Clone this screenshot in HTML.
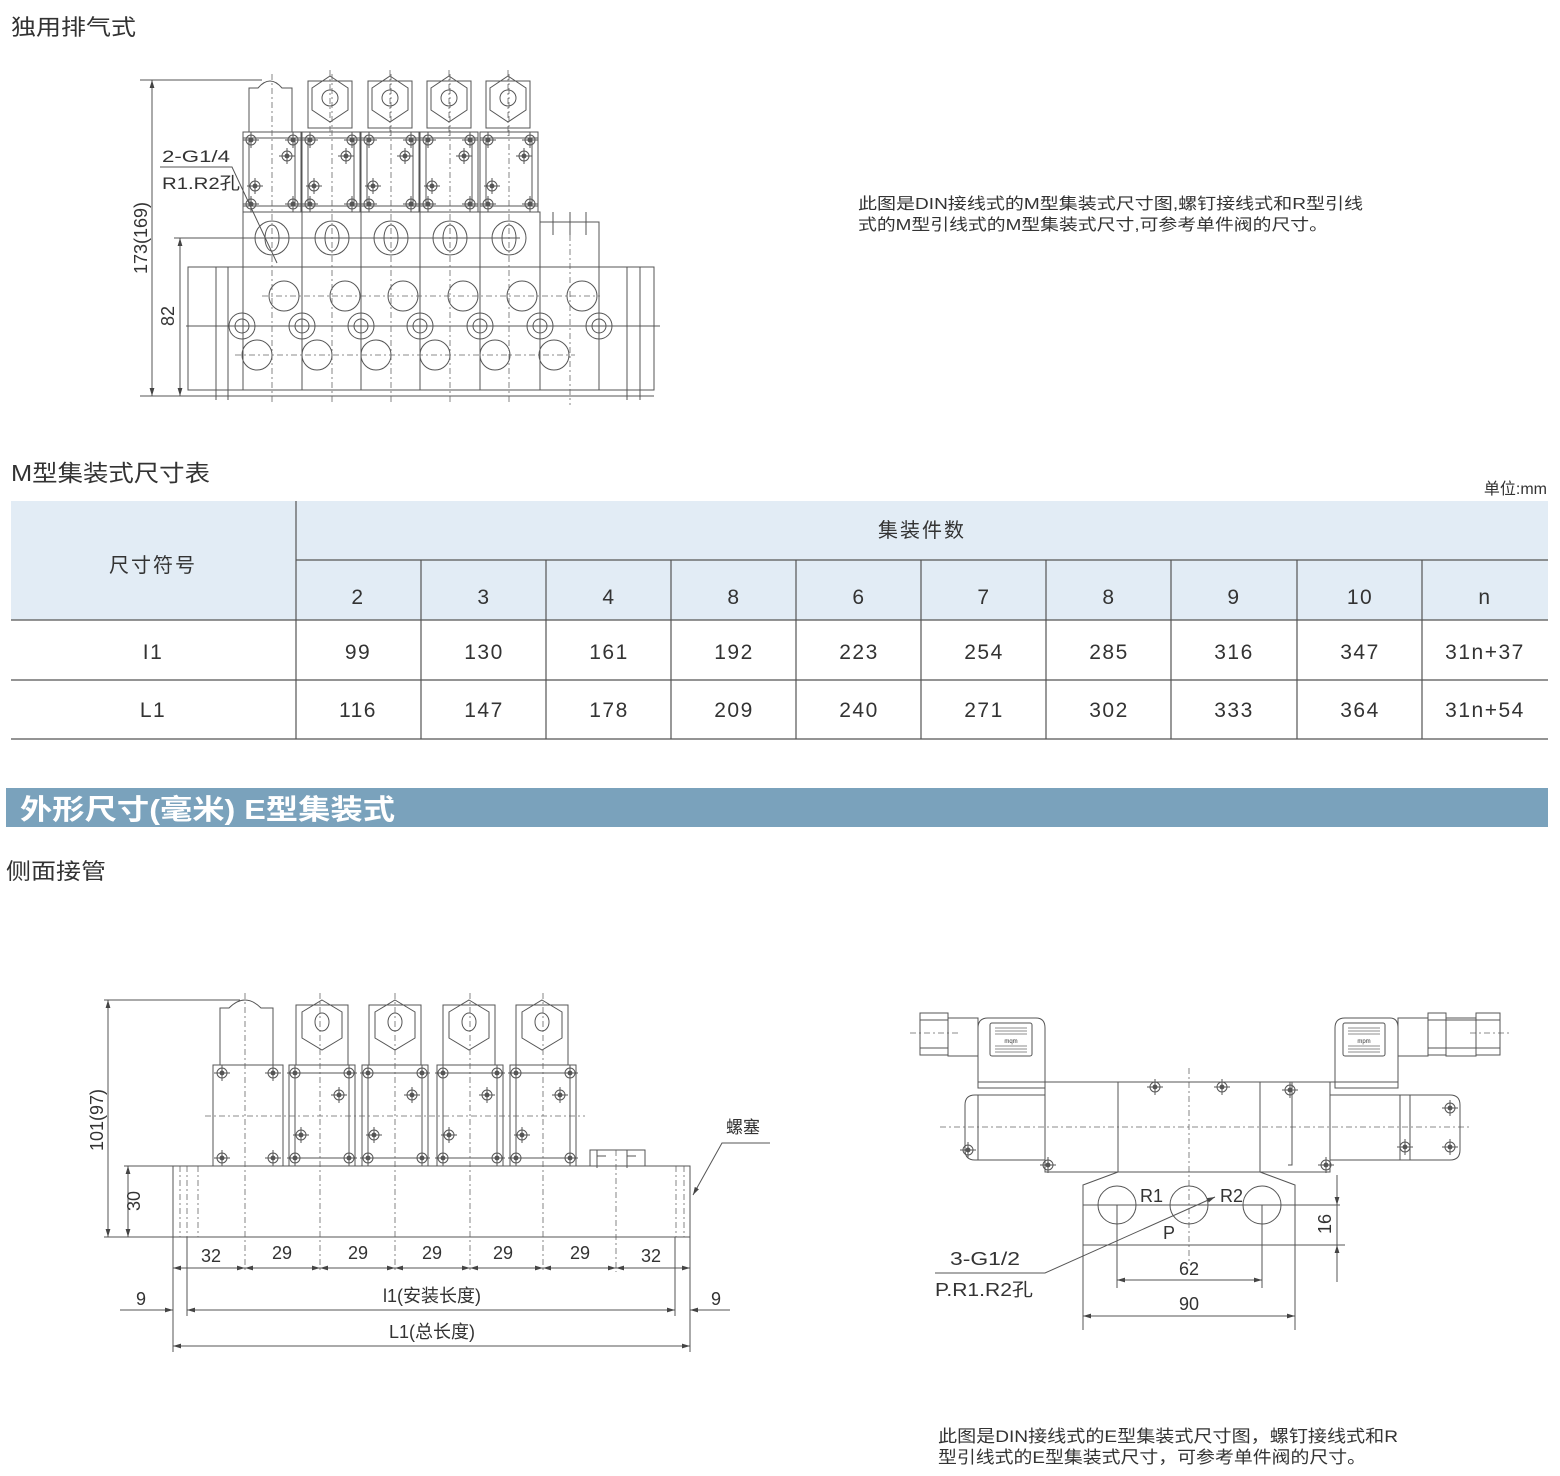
<!DOCTYPE html>
<html><head><meta charset="utf-8"><style>
html,body{margin:0;padding:0;background:#fff;width:1560px;height:1476px;overflow:hidden}
svg{display:block}
text{font-family:"Liberation Sans","Noto Sans CJK SC",sans-serif;fill:#333}
.l{fill:none;stroke:#555;stroke-width:1}
.d{fill:none;stroke:#666;stroke-width:0.8;stroke-dasharray:6,3,2,3}
</style></head><body>
<svg width="1560" height="1476" viewBox="0 0 1560 1476" xmlns="http://www.w3.org/2000/svg">
<defs>
<marker id="a" viewBox="0 0 10 10" refX="10" refY="5" markerWidth="8" markerHeight="8" orient="auto-start-reverse"><path d="M0,2L10,5L0,8z" fill="#444"/></marker>
<g id="bolt"><circle r="5" class="l"/><circle r="2.5" fill="#555"/><line x1="-8" x2="8" class="l"/><line y1="-8" y2="8" class="l"/></g>
<g id="hex"><rect x="-22" y="5" width="44" height="47" class="l"/><path d="M0,0L18,12L18,34L0,46L-18,34L-18,12Z" class="l"/><circle cy="22" r="8" class="l"/><line y1="-6" y2="60" class="d"/></g>
<g id="vtop"><rect x="0" y="0" width="58" height="80" class="l"/><line x1="0" y1="6" x2="58" y2="6" class="l"/><line x1="0" y1="74" x2="58" y2="74" class="l"/><rect x="6" y="6" width="46" height="68" class="l"/>
<use href="#bolt" x="8" y="8"/><use href="#bolt" x="50" y="8"/><use href="#bolt" x="8" y="72"/><use href="#bolt" x="50" y="72"/><use href="#bolt" x="44" y="24"/><use href="#bolt" x="12" y="54"/></g>
<g id="ewv"><rect x="0" y="0" width="66" height="101" class="l"/><rect x="6" y="8" width="54" height="85" class="l"/><line x1="0" y1="8" x2="66" y2="8" class="l"/>
<use href="#bolt" x="6" y="8"/><use href="#bolt" x="60" y="8"/><use href="#bolt" x="6" y="93"/><use href="#bolt" x="60" y="93"/><use href="#bolt" x="50" y="30"/><use href="#bolt" x="12" y="70"/></g>
</defs>

<!-- headings -->
<text x="11" y="35" font-size="22" textLength="125" lengthAdjust="spacingAndGlyphs">独用排气式</text>
<text x="11" y="481" font-size="23" textLength="199" lengthAdjust="spacingAndGlyphs">M型集装式尺寸表</text>
<text x="1547" y="494" font-size="16" text-anchor="end">单位:mm</text>
<text x="858" y="209" font-size="16" textLength="505" lengthAdjust="spacingAndGlyphs">此图是DIN接线式的M型集装式尺寸图,螺钉接线式和R型引线</text>
<text x="858" y="230" font-size="16" textLength="470" lengthAdjust="spacingAndGlyphs">式的M型引线式的M型集装式尺寸,可参考单件阀的尺寸。</text>

<!-- top drawing -->
<g>
<line x1="140" y1="80" x2="262" y2="80" class="l"/>
<line x1="140" y1="396" x2="654" y2="396" class="l"/>
<line x1="152" y1="80" x2="152" y2="396" class="l" marker-start="url(#a)" marker-end="url(#a)"/>
<line x1="174" y1="238" x2="520" y2="238" class="l"/>
<line x1="180" y1="238" x2="180" y2="396" class="l" marker-start="url(#a)" marker-end="url(#a)"/>
<text transform="translate(147,238) rotate(-90)" font-size="18" text-anchor="middle">173(169)</text>
<text transform="translate(174,316) rotate(-90)" font-size="18" text-anchor="middle">82</text>
<rect x="188" y="267" width="466" height="123" class="l"/>
<line x1="216" y1="267" x2="216" y2="400" class="l"/><line x1="228" y1="267" x2="228" y2="400" class="l"/>
<line x1="627" y1="267" x2="627" y2="400" class="l"/><line x1="640" y1="267" x2="640" y2="400" class="l"/>
<rect x="243" y="212" width="59" height="178" class="l"/>
<rect x="302" y="212" width="59" height="178" class="l"/>
<rect x="361" y="212" width="59" height="178" class="l"/>
<rect x="420" y="212" width="60" height="178" class="l"/>
<rect x="480" y="212" width="60" height="178" class="l"/>
<rect x="540" y="222" width="59" height="168" class="l"/>
<line x1="550" y1="222" x2="592" y2="222" class="l"/><line x1="553" y1="212" x2="553" y2="235" class="l"/><line x1="570" y1="212" x2="570" y2="235" class="l"/><line x1="586" y1="212" x2="586" y2="235" class="l"/>
<line x1="243" y1="267" x2="599" y2="267" class="l"/>
<use href="#vtop" x="243" y="132"/><use href="#vtop" x="302" y="132"/><use href="#vtop" x="361" y="132"/><use href="#vtop" x="420" y="132"/><use href="#vtop" x="480" y="132"/>
<path d="M249,132V88H258Q270,74 282,88H292V132" class="l"/>
<use href="#hex" x="330" y="76"/><use href="#hex" x="390" y="76"/><use href="#hex" x="449" y="76"/><use href="#hex" x="508" y="76"/>
<g class="l">
<circle cx="272" cy="238" r="17"/><ellipse cx="272" cy="238" rx="7" ry="13"/>
<circle cx="332" cy="238" r="17"/><ellipse cx="332" cy="238" rx="7" ry="13"/>
<circle cx="391" cy="238" r="17"/><ellipse cx="391" cy="238" rx="7" ry="13"/>
<circle cx="450" cy="238" r="17"/><ellipse cx="450" cy="238" rx="7" ry="13"/>
<circle cx="509" cy="238" r="17"/><ellipse cx="509" cy="238" rx="7" ry="13"/>
<circle cx="284" cy="296" r="15"/><circle cx="345" cy="296" r="15"/><circle cx="403" cy="296" r="15"/><circle cx="463" cy="296" r="15"/><circle cx="522" cy="296" r="15"/><circle cx="582" cy="296" r="15"/>
<circle cx="242" cy="326" r="13"/><circle cx="242" cy="326" r="7"/>
<circle cx="302" cy="326" r="13"/><circle cx="302" cy="326" r="7"/>
<circle cx="361" cy="326" r="13"/><circle cx="361" cy="326" r="7"/>
<circle cx="420" cy="326" r="13"/><circle cx="420" cy="326" r="7"/>
<circle cx="480" cy="326" r="13"/><circle cx="480" cy="326" r="7"/>
<circle cx="540" cy="326" r="13"/><circle cx="540" cy="326" r="7"/>
<circle cx="599" cy="326" r="13"/><circle cx="599" cy="326" r="7"/>
<circle cx="257" cy="355" r="15"/><circle cx="317" cy="355" r="15"/><circle cx="376" cy="355" r="15"/><circle cx="435" cy="355" r="15"/><circle cx="495" cy="355" r="15"/><circle cx="554" cy="355" r="15"/>
</g>
<line x1="186" y1="326" x2="660" y2="326" class="l"/>
<line x1="262" y1="296" x2="600" y2="296" class="d"/><line x1="235" y1="355" x2="575" y2="355" class="d"/>
<g class="d"><line x1="272" y1="74" x2="272" y2="405"/><line x1="332" y1="74" x2="332" y2="405"/><line x1="391" y1="74" x2="391" y2="405"/><line x1="450" y1="74" x2="450" y2="405"/><line x1="509" y1="74" x2="509" y2="405"/><line x1="570" y1="235" x2="570" y2="405"/></g>
<text x="162" y="162" font-size="17" textLength="68" lengthAdjust="spacingAndGlyphs">2-G1/4</text>
<text x="162" y="189" font-size="17" textLength="78" lengthAdjust="spacingAndGlyphs">R1.R2孔</text>
<path d="M160,167H232L277,263" class="l"/>
</g>

<!-- table -->
<rect x="11" y="501" width="1537" height="119" fill="#e2ecf5"/>
<g stroke="#555" stroke-width="1.2">
<line x1="296" y1="560" x2="1548" y2="560"/>
<line x1="11" y1="620" x2="1548" y2="620"/>
<line x1="11" y1="680" x2="1548" y2="680"/>
<line x1="11" y1="739" x2="1548" y2="739"/>
<line x1="296" y1="501" x2="296" y2="739"/>
<line x1="421" y1="560" x2="421" y2="739"/><line x1="546" y1="560" x2="546" y2="739"/><line x1="671" y1="560" x2="671" y2="739"/><line x1="796" y1="560" x2="796" y2="739"/><line x1="921" y1="560" x2="921" y2="739"/><line x1="1046" y1="560" x2="1046" y2="739"/><line x1="1171" y1="560" x2="1171" y2="739"/><line x1="1297" y1="560" x2="1297" y2="739"/><line x1="1422" y1="560" x2="1422" y2="739"/>
</g>
<g font-size="21" text-anchor="middle" letter-spacing="1.5">
<text x="153" y="572" font-size="20" letter-spacing="2">尺寸符号</text>
<text x="922" y="537" font-size="20" letter-spacing="2">集装件数</text>
<text x="358" y="604">2</text><text x="484" y="604">3</text><text x="609" y="604">4</text><text x="734" y="604">8</text><text x="859" y="604">6</text><text x="984" y="604">7</text><text x="1109" y="604">8</text><text x="1234" y="604">9</text><text x="1360" y="604">10</text><text x="1485" y="604">n</text>
<text x="153" y="659">I1</text><text x="358" y="659">99</text><text x="484" y="659">130</text><text x="609" y="659">161</text><text x="734" y="659">192</text><text x="859" y="659">223</text><text x="984" y="659">254</text><text x="1109" y="659">285</text><text x="1234" y="659">316</text><text x="1360" y="659">347</text><text x="1485" y="659">31n+37</text>
<text x="153" y="717">L1</text><text x="358" y="717">116</text><text x="484" y="717">147</text><text x="609" y="717">178</text><text x="734" y="717">209</text><text x="859" y="717">240</text><text x="984" y="717">271</text><text x="1109" y="717">302</text><text x="1234" y="717">333</text><text x="1360" y="717">364</text><text x="1485" y="717">31n+54</text>
</g>

<!-- banner -->
<rect x="6" y="788" width="1542" height="39" fill="#7aa2bc"/>
<text x="20" y="819" font-size="28" font-weight="bold" style="fill:#fff" textLength="375" lengthAdjust="spacingAndGlyphs">外形尺寸(毫米)  E型集装式</text>
<text x="6" y="879" font-size="22" textLength="100" lengthAdjust="spacingAndGlyphs">侧面接管</text>

<!-- bottom left drawing -->
<g>
<line x1="104" y1="1000" x2="240" y2="1000" class="l"/>
<line x1="104" y1="1237" x2="173" y2="1237" class="l"/>
<line x1="108" y1="1000" x2="108" y2="1237" class="l" marker-start="url(#a)" marker-end="url(#a)"/>
<line x1="124" y1="1166" x2="173" y2="1166" class="l"/>
<line x1="128" y1="1166" x2="128" y2="1237" class="l" marker-start="url(#a)" marker-end="url(#a)"/>
<text transform="translate(103,1120) rotate(-90)" font-size="18" text-anchor="middle">101(97)</text>
<text transform="translate(140,1201) rotate(-90)" font-size="18" text-anchor="middle">30</text>
<rect x="173" y="1166" width="517" height="71" class="l"/>
<g class="d"><line x1="180" y1="1166" x2="180" y2="1237"/><line x1="187" y1="1166" x2="187" y2="1237"/><line x1="198" y1="1166" x2="198" y2="1237"/><line x1="676" y1="1166" x2="676" y2="1237"/><line x1="684" y1="1166" x2="684" y2="1237"/></g>
<rect x="213" y="1065" width="70" height="101" class="l"/>
<use href="#bolt" x="222" y="1073"/><use href="#bolt" x="273" y="1073"/><use href="#bolt" x="222" y="1158"/><use href="#bolt" x="273" y="1158"/>
<path d="M220,1065V1008H229Q245,992 261,1008H273V1065" class="l"/>
<use href="#ewv" x="289" y="1065"/><use href="#ewv" x="362" y="1065"/><use href="#ewv" x="437" y="1065"/><use href="#ewv" x="510" y="1065"/>
<g transform="translate(322,1000)"><rect x="-26" y="5" width="52" height="60" class="l"/><path d="M0,0L20,12L20,38L0,50L-20,38L-20,12Z" class="l"/><ellipse cy="22" rx="7" ry="9" class="l"/></g>
<g transform="translate(395,1000)"><rect x="-26" y="5" width="52" height="60" class="l"/><path d="M0,0L20,12L20,38L0,50L-20,38L-20,12Z" class="l"/><ellipse cy="22" rx="7" ry="9" class="l"/></g>
<g transform="translate(469,1000)"><rect x="-26" y="5" width="52" height="60" class="l"/><path d="M0,0L20,12L20,38L0,50L-20,38L-20,12Z" class="l"/><ellipse cy="22" rx="7" ry="9" class="l"/></g>
<g transform="translate(542,1000)"><rect x="-26" y="5" width="52" height="60" class="l"/><path d="M0,0L20,12L20,38L0,50L-20,38L-20,12Z" class="l"/><ellipse cy="22" rx="7" ry="9" class="l"/></g>
<path d="M590,1166V1150H645V1166M597,1150V1168M627,1150V1168M597,1156H606M627,1156H636" class="l"/>
<line x1="205" y1="1116" x2="585" y2="1116" class="d"/>
<g class="d"><line x1="245" y1="993" x2="245" y2="1272"/><line x1="320" y1="993" x2="320" y2="1272"/><line x1="395" y1="993" x2="395" y2="1272"/><line x1="470" y1="993" x2="470" y2="1272"/><line x1="543" y1="993" x2="543" y2="1272"/><line x1="616" y1="1150" x2="616" y2="1272"/></g>
<line x1="173" y1="1237" x2="173" y2="1352" class="l"/><line x1="690" y1="1237" x2="690" y2="1352" class="l"/>
<line x1="187" y1="1237" x2="187" y2="1316" class="l"/><line x1="675" y1="1237" x2="675" y2="1316" class="l"/>
<g class="l" marker-start="url(#a)" marker-end="url(#a)">
<line x1="173" y1="1268" x2="245" y2="1268"/><line x1="245" y1="1268" x2="320" y2="1268"/><line x1="320" y1="1268" x2="395" y2="1268"/><line x1="395" y1="1268" x2="470" y2="1268"/><line x1="470" y1="1268" x2="543" y2="1268"/><line x1="543" y1="1268" x2="616" y2="1268"/><line x1="616" y1="1268" x2="690" y2="1268"/>
<line x1="187" y1="1310" x2="675" y2="1310"/>
<line x1="173" y1="1346" x2="690" y2="1346"/>
</g>
<line x1="120" y1="1310" x2="173" y2="1310" class="l" marker-end="url(#a)"/>
<line x1="730" y1="1310" x2="690" y2="1310" class="l" marker-end="url(#a)"/>
<g font-size="18" text-anchor="middle">
<text x="211" y="1262">32</text><text x="282" y="1259">29</text><text x="358" y="1259">29</text><text x="432" y="1259">29</text><text x="503" y="1259">29</text><text x="580" y="1259">29</text><text x="651" y="1262">32</text>
<text x="141" y="1305">9</text><text x="716" y="1305">9</text>
<text x="432" y="1302">l1(安装长度)</text>
<text x="432" y="1338">L1(总长度)</text>
</g>
<text x="726" y="1133" font-size="17">螺塞</text>
<path d="M770,1143H722L693,1195" class="l" marker-end="url(#a)"/>
</g>

<!-- bottom right drawing -->
<g>
<line x1="940" y1="1127" x2="1470" y2="1127" class="d"/>
<line x1="1189" y1="1068" x2="1189" y2="1262" class="d"/>
<line x1="910" y1="1033" x2="960" y2="1033" class="d"/><line x1="1470" y1="1033" x2="1512" y2="1033" class="d"/>
<rect x="1045" y="1082" width="285" height="90" class="l"/>
<line x1="1118" y1="1082" x2="1118" y2="1172" class="l"/><line x1="1260" y1="1082" x2="1260" y2="1172" class="l"/>
<path d="M1260,1082H1292V1165H1288" class="l"/>
<use href="#bolt" x="1155" y="1087"/><use href="#bolt" x="1222" y="1087"/><use href="#bolt" x="1290" y="1090"/><use href="#bolt" x="1048" y="1165"/><use href="#bolt" x="1326" y="1165"/>
<path d="M975,1095H1045V1160H975Q965,1160 965,1150V1105Q965,1095 975,1095Z" class="l"/>
<line x1="978" y1="1095" x2="978" y2="1160" class="l"/>
<use href="#bolt" x="968" y="1150"/>
<path d="M978,1088V1028Q978,1018 988,1018H1036Q1045,1018 1045,1028V1088Z" class="l"/>
<line x1="978" y1="1082" x2="1045" y2="1082" class="l"/>
<rect x="990" y="1023" width="42" height="33" rx="2" class="l"/>
<g stroke="#666" stroke-width="0.8"><line x1="995" y1="1028" x2="1027" y2="1028"/><line x1="995" y1="1031" x2="1027" y2="1031"/><line x1="995" y1="1034" x2="1027" y2="1034"/><line x1="995" y1="1046" x2="1027" y2="1046"/><line x1="995" y1="1049" x2="1027" y2="1049"/><line x1="995" y1="1052" x2="1027" y2="1052"/></g>
<text x="1011" y="1043" font-size="6" text-anchor="middle">mqm</text>
<rect x="948" y="1018" width="30" height="38" class="l"/><rect x="920" y="1013" width="28" height="42" class="l"/>
<line x1="920" y1="1020" x2="948" y2="1020" class="l"/><line x1="920" y1="1048" x2="948" y2="1048" class="l"/>
<path d="M1330,1095H1450Q1460,1095 1460,1105V1150Q1460,1160 1450,1160H1330Z" class="l"/>
<line x1="1400" y1="1095" x2="1400" y2="1160" class="l"/><line x1="1410" y1="1095" x2="1410" y2="1160" class="l"/>
<use href="#bolt" x="1450" y="1108"/><use href="#bolt" x="1450" y="1147"/><use href="#bolt" x="1405" y="1147"/>
<path d="M1335,1088V1028Q1335,1018 1345,1018H1390Q1398,1018 1398,1028V1088Z" class="l"/>
<line x1="1330" y1="1082" x2="1398" y2="1082" class="l"/>
<rect x="1343" y="1023" width="42" height="33" rx="2" class="l"/>
<g stroke="#666" stroke-width="0.8"><line x1="1348" y1="1028" x2="1380" y2="1028"/><line x1="1348" y1="1031" x2="1380" y2="1031"/><line x1="1348" y1="1034" x2="1380" y2="1034"/><line x1="1348" y1="1046" x2="1380" y2="1046"/><line x1="1348" y1="1049" x2="1380" y2="1049"/><line x1="1348" y1="1052" x2="1380" y2="1052"/></g>
<text x="1364" y="1043" font-size="6" text-anchor="middle">mpm</text>
<rect x="1398" y="1018" width="30" height="38" class="l"/><rect x="1428" y="1013" width="18" height="42" class="l"/><rect x="1446" y="1018" width="30" height="38" class="l"/><rect x="1476" y="1013" width="24" height="42" class="l"/>
<line x1="1428" y1="1020" x2="1500" y2="1020" class="l"/><line x1="1428" y1="1048" x2="1500" y2="1048" class="l"/>
<path d="M1118,1172L1083,1185V1245H1295V1185L1260,1172" class="l"/>
<circle cx="1117" cy="1205" r="19" class="l"/><circle cx="1189" cy="1205" r="19" class="l"/><circle cx="1262" cy="1205" r="19" class="l"/>
<line x1="1083" y1="1205" x2="1340" y2="1205" class="l"/>
<line x1="1295" y1="1245" x2="1345" y2="1245" class="l"/><line x1="1083" y1="1245" x2="1083" y2="1330" class="l"/><line x1="1295" y1="1245" x2="1295" y2="1330" class="l"/>
<line x1="1117" y1="1205" x2="1117" y2="1288" class="l"/><line x1="1262" y1="1205" x2="1262" y2="1288" class="l"/>
<line x1="1337" y1="1175" x2="1337" y2="1282" class="l"/>
<line x1="1337" y1="1180" x2="1337" y2="1205" class="l" marker-end="url(#a)"/>
<line x1="1337" y1="1270" x2="1337" y2="1245" class="l" marker-end="url(#a)"/>
<line x1="1117" y1="1280" x2="1262" y2="1280" class="l" marker-start="url(#a)" marker-end="url(#a)"/>
<line x1="1083" y1="1316" x2="1295" y2="1316" class="l" marker-start="url(#a)" marker-end="url(#a)"/>
<g font-size="18"><text x="1140" y="1202">R1</text><text x="1220" y="1202">R2</text><text x="1163" y="1239">P</text>
<text x="1189" y="1275" text-anchor="middle">62</text><text x="1189" y="1310" text-anchor="middle">90</text>
<text transform="translate(1331,1224) rotate(-90)" text-anchor="middle">16</text>
<text x="950" y="1265" textLength="70" lengthAdjust="spacingAndGlyphs">3-G1/2</text><text x="935" y="1296" textLength="98" lengthAdjust="spacingAndGlyphs">P.R1.R2孔</text></g>
<path d="M935,1273H1045L1215,1197" class="l" marker-end="url(#a)"/>
</g>

<text x="938" y="1442" font-size="17" textLength="460" lengthAdjust="spacingAndGlyphs">此图是DIN接线式的E型集装式尺寸图，螺钉接线式和R</text>
<text x="938" y="1463" font-size="17" textLength="428" lengthAdjust="spacingAndGlyphs">型引线式的E型集装式尺寸，可参考单件阀的尺寸。</text>
</svg>
</body></html>
